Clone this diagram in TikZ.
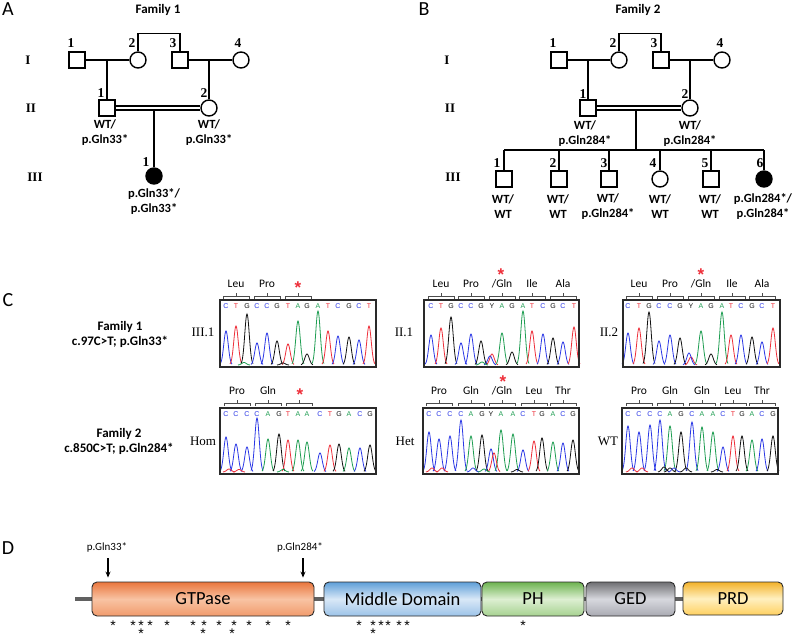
\documentclass[tikz,border=0pt]{standalone}
\usepackage{fontspec}
\setmainfont{Carlito}
\newfontfamily\tms{Liberation Serif}
\newfontfamily\ari{Liberation Sans}
\usetikzlibrary{arrows.meta}
\definecolor{cb}{HTML}{2B38E6}
\definecolor{cr}{HTML}{EE2F3A}
\definecolor{cg}{HTML}{1F9E52}
\definecolor{ck}{HTML}{111111}
\definecolor{frame}{HTML}{2A2A2A}
\definecolor{gtpT}{HTML}{E9763D}\definecolor{gtpM}{HTML}{F8C3A3}\definecolor{gtpB}{HTML}{F19B6C}
\definecolor{midT}{HTML}{5F9FD8}\definecolor{midM}{HTML}{D9E8F7}\definecolor{midB}{HTML}{9CC3E8}
\definecolor{phT}{HTML}{6DB350}\definecolor{phM}{HTML}{DDEFD2}\definecolor{phB}{HTML}{A6D290}
\definecolor{gedT}{HTML}{6F6F72}\definecolor{gedM}{HTML}{D7D8DE}\definecolor{gedB}{HTML}{A9AAB2}
\definecolor{prdT}{HTML}{F3B22A}\definecolor{prdM}{HTML}{FFF0C0}\definecolor{prdB}{HTML}{FFD060}
\newcommand\peak[4]{\draw[color=#4,line width=0.8pt] plot[domain=-6:6,samples=25,smooth] ({#1+\x},{#2-(#3)*exp(-(\x)*(\x)/10)});}
\newcommand\chrom[4]{\foreach \px/\h/\c/\l/\lc in {#4} {\peak{\px}{#2}{\h}{\c}\node[basel,text=\lc] (#1\px) at (\px,#3) {\l};}}
\newcommand\codb[2]{\draw[brk] ({#1-13},{#2+3}) -- ({#1-13},#2) -- ({#1+13},#2) -- ({#1+13},{#2+3}) (#1,#2) -- (#1,{#2-3});}
\newcommand\cod[4]{\codb{#2}{#3}\node[codl] (#1) at (#2,{#3-12.5}) {#4};}
\newcommand\rstar[3]{\node[rst] (#1) at (#2,{#3+9.6}) {*};}
\newcommand\bstar[3]{\node[bst] (#1) at (#2,{#3+7.9}) {*};}
\begin{document}
\begin{tikzpicture}[x=1pt,y=-1pt,
  sq/.style={draw,line width=1.4pt,minimum size=16pt,inner sep=0pt,fill=white},
  ci/.style={circle,draw,line width=1.4pt,minimum size=16pt,inner sep=0pt,fill=white},
  aff/.style={ci,fill=black},
  pl/.style={line width=1.2pt},
  num/.style={font=\tms\bfseries\fontsize{13.5}{13.5}\selectfont,inner sep=0pt},
  rom/.style={font=\tms\bfseries\fontsize{13}{13}\selectfont,inner sep=0pt},
  gen/.style={font=\bfseries\fontsize{12.5}{15}\selectfont,align=center,inner sep=0pt},
  ttl/.style={font=\bfseries\fontsize{13}{15}\selectfont,align=center,inner sep=0pt},
  pan/.style={font=\fontsize{20}{20}\selectfont,inner sep=0pt},
  slab/.style={font=\tms\fontsize{13}{13}\selectfont,inner sep=0pt},
  basel/.style={font=\ari\fontsize{7}{7}\selectfont,inner sep=0pt},
  codl/.style={font=\fontsize{11.5}{11.5}\selectfont,inner sep=0pt},
  brk/.style={draw=black!70,line width=0.7pt},
  cbox/.style={draw=frame,line width=1.4pt,inner sep=0pt},
  rst/.style={font=\ari\bfseries\fontsize{17}{17}\selectfont,text=cr,anchor=base,inner sep=0pt},
  bst/.style={font=\ari\fontsize{14}{14}\selectfont,anchor=base,inner sep=0pt},
  dom/.style={draw=frame,line width=0.9pt,rounded corners=5pt,inner sep=0pt,font=\fontsize{18.5}{18.5}\selectfont},
  mlab/.style={font=\fontsize{11}{11}\selectfont,inner sep=0pt},
  arr/.style={line width=1.2pt,-{Stealth[length=6pt,width=5pt]}}
]
\useasboundingbox (0,0) rectangle (794,635);
\fill[white] (0,0) rectangle (794,635);

% ---------- Panel letters and titles
\node[pan] (pA) at (8,9) {A};
\node[pan] (pB) at (424,9) {B};
\node[pan] (pC) at (8,300) {C};
\node[pan] (pD) at (8,548) {D};
\node[ttl] (tA) at (158,10) {Family 1};
\node[ttl] (tB) at (638,10) {Family 2};

% ---------- Pedigree A
\node[sq] (a11) at (77,60) {};
\node[ci] (a12) at (138,60) {};
\node[sq] (a13) at (180,60) {};
\node[ci] (a14) at (241,60) {};
\node[sq] (a21) at (107,108) {};
\node[ci] (a22) at (209,108) {};
\node[aff] (a31) at (154,176) {};
\draw[pl] (a11.east) -- (a12.west);
\draw[pl] (a13.east) -- (a14.west);
\draw[pl] (a12.north) -- ++(0,-18) -| (a13.north);
\draw[pl] (a21.north) -- (a21.north |- a11.east);
\draw[pl] (a22.north) -- (a22.north |- a13.east);
\coordinate (a2t) at ([yshift=2pt]a21.east);
\coordinate (a2b) at ([yshift=-2pt]a21.east);
\draw[pl] (a2t) -- (a2t -| a22.west);
\draw[pl] (a2b) -- (a2b -| a22.west);
\draw[pl] (a31.north) -- (a31.north |- a2b);
\node[num] (na11) at (71,43) {1};
\node[num] (na12) at (132,43) {2};
\node[num] (na13) at (173,43) {3};
\node[num] (na14) at (238,43) {4};
\node[num] (na21) at (101,93) {1};
\node[num] (na22) at (204,93) {2};
\node[num] (na31) at (146,162) {1};
\node[rom] (ra1) at (28,60) {I};
\node[rom] (ra2) at (31,108) {II};
\node[rom] (ra3) at (35,177) {III};
\node[gen] (ga21) at (105,133) {WT/\\p.Gln33*};
\node[gen] (ga22) at (209,133) {WT/\\p.Gln33*};
\node[gen] (ga31) at (154,202) {p.Gln33*/\\p.Gln33*};

% ---------- Pedigree B
\node[sq] (b11) at (559,60) {};
\node[ci] (b12) at (619,60) {};
\node[sq] (b13) at (661,60) {};
\node[ci] (b14) at (722,60) {};
\node[sq] (b21) at (588,108) {};
\node[ci] (b22) at (690,108) {};
\node[sq] (b31) at (504,179) {};
\node[sq] (b32) at (559,179) {};
\node[sq] (b33) at (609,179) {};
\node[ci] (b34) at (660,179) {};
\node[sq] (b35) at (711,179) {};
\node[aff] (b36) at (764,179) {};
\draw[pl] (b11.east) -- (b12.west);
\draw[pl] (b13.east) -- (b14.west);
\draw[pl] (b12.north) -- ++(0,-18) -| (b13.north);
\draw[pl] (b21.north) -- (b21.north |- b11.east);
\draw[pl] (b22.north) -- (b22.north |- b13.east);
\coordinate (b2t) at ([yshift=2pt]b21.east);
\coordinate (b2b) at ([yshift=-2pt]b21.east);
\draw[pl] (b2t) -- (b2t -| b22.west);
\draw[pl] (b2b) -- (b2b -| b22.west);
\coordinate (bsib) at (636,150);
\draw[pl] (bsib) -- (bsib |- b2b);
\draw[pl] (bsib -| b31.north) -- (bsib -| b36.north);
\foreach \k in {b31,b32,b33,b34,b35,b36} {\draw[pl] (\k.north) -- (\k.north |- bsib);}
\node[num] (nb11) at (553,43) {1};
\node[num] (nb12) at (613,43) {2};
\node[num] (nb13) at (654,43) {3};
\node[num] (nb14) at (720,43) {4};
\node[num] (nb21) at (583,94) {1};
\node[num] (nb22) at (685,94) {2};
\node[num] (nb31) at (497,163) {1};
\node[num] (nb32) at (553,163) {2};
\node[num] (nb33) at (604,163) {3};
\node[num] (nb34) at (653,163) {4};
\node[num] (nb35) at (705,163) {5};
\node[num] (nb36) at (760,163) {6};
\node[rom] (rb1) at (447,60) {I};
\node[rom] (rb2) at (450,108) {II};
\node[rom] (rb3) at (453,177) {III};
\node[gen] (gb21) at (585,134) {WT/\\p.Gln284*};
\node[gen] (gb22) at (690,134) {WT/\\p.Gln284*};
\node[gen] (gb31) at (503,207) {WT/\\WT};
\node[gen] (gb32) at (558,207) {WT/\\WT};
\node[gen] (gb33) at (608,207) {WT/\\p.Gln284*};
\node[gen] (gb34) at (660,207) {WT/\\WT};
\node[gen] (gb35) at (710,207) {WT/\\WT};
\node[gen] (gb36) at (763,207) {p.Gln284*/\\p.Gln284*};

% ---------- Panel C labels
\node[ttl] (cf1) at (120,334) {Family 1\\c.97C>T; p.Gln33*};
\node[ttl] (cf2) at (119,441) {Family 2\\c.850C>T; p.Gln284*};
\node[slab] (s1) at (203,332) {III.1};
\node[slab] (s2) at (404,332) {II.1};
\node[slab] (s3) at (609,332) {II.2};
\node[slab] (s4) at (203,441) {Hom};
\node[slab] (s5) at (405,441) {Het};
\node[slab] (s6) at (608,441) {WT};

% ---------- Chromatograms row 1
\chrom{ta}{365}{306}{226/34/cb/C/cb,236/39/cr/T/cr,247/51/ck/G/ck,257/22/cb/C/cb,267/32/cb/C/cb,277/24/ck/G/ck,288/21/cr/T/cr,298/44/cg/A/cg,307/11/ck/G/ck,318/54/cg/A/cg,328/34/cr/T/cr,338/29/cb/C/cb,349/28/ck/G/ck,359/25/cb/C/cb,369/39/cr/T/cr}
\peak{244}{365}{2.5}{cg}\peak{283}{365}{2}{ck}
\chrom{tb}{365}{306}{431/30/cb/C/cb,441/37/cr/T/cr,451/48/ck/G/ck,461/22/cb/C/cb,471/31/cb/C/cb,481/24/ck/G/ck,492/11/cr/Y/ck,502/32/cg/A/cg,512/13/ck/G/ck,523/54/cg/A/cg,532/34/cr/T/cr,543/31/cb/C/cb,553/27/ck/G/ck,563/23/cb/C/cb,574/38/cr/T/cr}
\peak{490}{365}{9}{cb}\peak{482}{365}{3}{cg}
\chrom{tc}{365}{306}{628/32/cb/C/cb,639/37/cr/T/cr,649/53/ck/G/ck,659/24/cb/C/cb,670/30/cb/C/cb,680/27/ck/G/ck,691/8/cr/Y/ck,701/34/cg/A/cg,711/11/ck/G/ck,722/53/cg/A/cg,731/30/cr/T/cr,741/30/cb/C/cb,752/28/ck/G/ck,762/23/cb/C/cb,773/37/cr/T/cr}
\peak{689}{365}{12}{cb}
\node[cbox,minimum width=156pt,minimum height=67pt] (ch1) at (298,333.5) {};
\node[cbox,minimum width=155pt,minimum height=67pt] (ch2) at (501.5,333.5) {};
\node[cbox,minimum width=157pt,minimum height=67pt] (ch3) at (701.5,333.5) {};

% ---------- Chromatograms row 2
\chrom{td}{472}{414}{226/35/cb/C/cb,236/28/cb/C/cb,247/25/cb/C/cb,257/54/cb/C/cb,268/33/cg/A/cg,279/38/ck/G/ck,288/32/cr/T/cr,298/32/cg/A/cg,307/30/cg/A/cg,320/19/cb/C/cb,330/27/cr/T/cr,339/28/ck/G/ck,349/24/cg/A/cg,360/24/cb/C/cb,370/27/ck/G/ck}
\peak{229}{472}{3}{cr}\peak{239}{472}{2.5}{cr}\peak{283}{472}{2.5}{cg}
\chrom{te}{472}{414}{429/40/cb/C/cb,439/33/cb/C/cb,450/36/cb/C/cb,461/52/cb/C/cb,471/36/cg/A/cg,482/37/ck/G/ck,491/23/cb/Y/ck,501/42/cg/A/cg,513/38/cg/A/cg,523/22/cb/C/cb,534/31/cr/T/cr,542/34/ck/G/ck,553/30/cg/A/cg,563/29/cb/C/cb,573/32/ck/G/ck}
\peak{494}{472}{19}{cr}\peak{432}{472}{4}{cr}\peak{442}{472}{4}{cr}\peak{473}{472}{4}{cb}\peak{484}{472}{3}{cg}\peak{517}{472}{2.5}{ck}
\chrom{tf}{472}{414}{628/46/cb/C/cb,639/40/cb/C/cb,650/47/cb/C/cb,660/52/cb/C/cb,670/46/cg/A/cg,681/40/ck/G/ck,692/50/cb/C/cb,702/45/cg/A/cg,713/40/cg/A/cg,723/25/cb/C/cb,733/36/cr/T/cr,742/36/ck/G/ck,752/32/cg/A/cg,762/33/cb/C/cb,773/36/ck/G/ck}
\peak{632}{472}{4}{cr}\peak{642}{472}{4}{cr}\peak{664}{472}{5}{ck}\peak{670}{472}{4}{ck}\peak{674}{472}{4}{cb}\peak{686}{472}{4}{ck}\peak{717}{472}{2.5}{ck}
\node[cbox,minimum width=156pt,minimum height=66pt] (ch4) at (298,441) {};
\node[cbox,minimum width=156pt,minimum height=66pt] (ch5) at (501,441) {};
\node[cbox,minimum width=156pt,minimum height=66pt] (ch6) at (700,441) {};

% ---------- codon brackets row 1
\cod{k1a}{236}{296}{Leu}\cod{k1b}{267}{296}{Pro}\codb{298}{296}\rstar{r1}{298}{284}
\cod{k2a}{441}{296}{Leu}\cod{k2b}{471}{296}{Pro}\cod{k2c}{502}{296}{/Gln}\cod{k2d}{532}{296}{Ile}\cod{k2e}{563}{296}{Ala}\rstar{r2}{501}{271}
\cod{k3a}{639}{296}{Leu}\cod{k3b}{670}{296}{Pro}\cod{k3c}{701}{296}{/Gln}\cod{k3d}{732}{296}{Ile}\cod{k3e}{762}{296}{Ala}\rstar{r3}{701}{271}
% ---------- codon brackets row 2
\cod{k4a}{237}{403}{Pro}\cod{k4b}{268}{403}{Gln}\codb{299}{403}\rstar{r4}{300}{391}
\cod{k5a}{439}{403}{Pro}\cod{k5b}{471}{403}{Gln}\cod{k5c}{502}{403}{/Gln}\cod{k5d}{534}{403}{Leu}\cod{k5e}{563}{403}{Thr}\rstar{r5}{503}{378}
\cod{k6a}{639}{403}{Pro}\cod{k6b}{670}{403}{Gln}\cod{k6c}{702}{403}{Gln}\cod{k6d}{733}{403}{Leu}\cod{k6e}{762}{403}{Thr}

% ---------- Panel D
\coordinate (bbL) at (75,599);
\coordinate (bbR) at (690,599);
\draw[line width=3.5pt,color=black!62] (bbL) -- (bbR);
\node[dom,minimum width=222pt,minimum height=34pt,top color=gtpT,bottom color=gtpB,middle color=gtpM] (gtp) at (203,599) {GTPase};
\node[dom,minimum width=157pt,minimum height=34pt,top color=midT,bottom color=midB,middle color=midM] (mid) at (402.5,599) {Middle Domain};
\node[dom,minimum width=102pt,minimum height=34pt,top color=phT,bottom color=phB,middle color=phM] (ph) at (533,599) {PH};
\node[dom,minimum width=89pt,minimum height=34pt,top color=gedT,bottom color=gedB,middle color=gedM] (ged) at (630.5,599) {GED};
\node[dom,minimum width=100pt,minimum height=33pt,top color=prdT,bottom color=prdB,middle color=prdM] (prd) at (733,598.5) {PRD};
\node[mlab] (m33) at (107,547) {p.Gln33*};
\node[mlab] (m284) at (300,547) {p.Gln284*};
\coordinate (m33x) at (108,558);
\coordinate (m284x) at (303,558);
\draw[arr,shorten >=4pt] (m33x) -- (m33x |- gtp.north);
\draw[arr,shorten >=4pt] (m284x) -- (m284x |- gtp.north);
\foreach \sx [count=\i] in {113,133,141,150,167,193,204,219,234,249,268,288,359,373,381,388,399,407,523} {\bstar{s1-\i}{\sx}{623}}
\foreach \sx [count=\i] in {141,203,232,373} {\bstar{s2-\i}{\sx}{631}}
\end{tikzpicture}
\end{document}
